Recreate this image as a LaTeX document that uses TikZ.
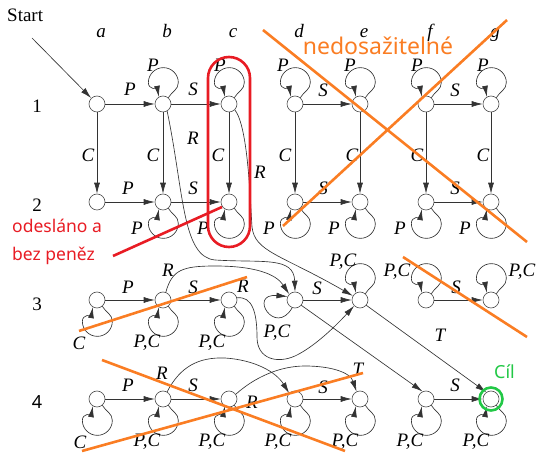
\documentclass[tikz,border=0pt]{standalone}
\usepackage{fontspec}
\setmainfont{Liberation Serif}
\newfontfamily\annfont{Noto Sans}
\usetikzlibrary{arrows.meta}
\definecolor{ora}{RGB}{250,125,35}
\definecolor{redc}{RGB}{232,28,36}
\definecolor{grn}{RGB}{34,200,70}
\newcommand\lpup[1]{\draw[ed] (#1.50) to[out=60,in=-90] ++(10,15) arc[start angle=0,end angle=180,radius=15] to[out=-90,in=100] (#1.120);}
\newcommand\lpdn[1]{\draw[ed] (#1.-50) to[out=-60,in=90] ++(10,-15) arc[start angle=0,end angle=-180,radius=15] to[out=90,in=-100] (#1.-120);}
\begin{document}
\begin{tikzpicture}[x=1pt,y=1pt,
  st/.style={circle,draw=black!70,fill=white,minimum size=16pt,inner sep=0pt,line width=0.6pt},
  ed/.style={draw=black!80,line width=0.65pt,-{Latex[length=11pt,width=6pt]}},
  lab/.style={font=\fontsize{19}{22}\selectfont\itshape,inner sep=0pt},
  rm/.style={font=\fontsize{19}{22}\selectfont,inner sep=0pt},
  orl/.style={draw=ora,line width=2.6pt},
  rdl/.style={draw=redc,line width=2.6pt},
]
\useasboundingbox (0,0) rectangle (540,452);
% states
\foreach \c/\x in {a/97,b/163,c/229,d/295,e/360,f/426,g/491}{
  \foreach \r/\y in {1/348,2/250,3/152,4/53}{
    \node[st] (\c\r) at (\x,\y) {};
  }
  \node[lab,anchor=base] (col\c) at (\x+4,414) {\c};
}
\node[rm] (row1) at (37,346) {1};
\node[rm] (row2) at (37,247) {2};
\node[rm] (row3) at (37,148) {3};
\node[rm,font=\annfont\fontsize{18}{22}\selectfont] (row4) at (37,50) {4};
\node[rm,anchor=base west] (start) at (7,430) {Start};
\coordinate (s0) at (32,414);
\draw[ed] (s0) -- (a1);
% straight transitions
\foreach \r in {1,2,3,4}{
  \draw[ed] (a\r) -- (b\r);
  \draw[ed] (b\r) -- (c\r);
  \draw[ed] (d\r) -- (e\r);
  \draw[ed] (f\r) -- (g\r);
}
\foreach \c in {a,b,c,d,e,f,g}{ \draw[ed] (\c1) -- (\c2); }
% loops
\foreach \c in {b,c,d,e,f,g}{ \lpup{\c1} \lpdn{\c2} }
\foreach \c in {a,b,c,d,e,f,g}{ \lpdn{\c4} }
\lpdn{a3} \lpdn{b3} \lpdn{c3}
\lpup{e3} \lpup{f3} \lpup{g3}
\draw[ed] (d3.-110) .. controls +(-120:34) and +(175:40) .. (d3.155);
% curved transitions
\draw[ed] (b1.-60) .. controls (184,260) and (182,195) .. (215,192) .. controls (262,189) and (294,196) .. (d3.north);
\draw[ed] (b3.70) .. controls (172,182) and (182,186) .. (215,186) .. controls (255,186) and (276,178) .. (d3.135);
\draw[ed] (c1.-45) .. controls (248,325) and (250,255) .. (252,225) .. controls (255,200) and (280,198) .. (e3.150);
\draw[ed] (c3.15) .. controls (252,156) and (257,140) .. (257,115) .. controls (257,93) and (277,88) .. (295,96) .. controls (312,104) and (332,122) .. (e3.-135);
\draw[ed] (b4.60) .. controls (180,85) and (198,95) .. (225,94) .. controls (255,92) and (276,80) .. (d4.135);
\draw[ed] (c4.35) .. controls (255,75) and (280,86) .. (305,86) .. controls (330,86) and (350,80) .. (e4.115);
\draw[ed] (d3.-40) -- (f4.115);
\draw[ed] (e3.-40) -- (g4.125);
% labels row 1
\node[lab] (l1) at (130,363) {P};
\node[lab] (l2) at (193,363) {S};
\node[lab] (l3) at (323,362) {S};
\node[lab] (l4) at (455,362) {S};
\foreach \c/\x in {b/153,c/220,d/283,e/350,f/417,g/483}{ \node[lab] (lp\c1) at (\x,387) {P}; }
\foreach \c/\x in {a/88,b/153,c/218,d/285,e/352,f/417,g/483}{ \node[lab] (lc\c) at (\x,297) {C}; }
\node[lab] (lr1) at (193,314) {R};
\node[lab] (lr2) at (260,280) {R};
% labels row 2
\node[lab] (l5) at (128,264) {P};
\node[lab] (l6) at (193,264) {S};
\node[lab] (l7) at (323,264) {S};
\node[lab] (l8) at (455,264) {S};
\foreach \c/\x in {b/137,c/203,d/269,e/334,f/400,g/465}{ \node[lab] (lp\c2) at (\x,224) {P}; }
% labels row 3
\node[lab] (l9) at (128,165) {P};
\node[lab] (l10) at (193,165) {S};
\node[lab] (lr3) at (168,182) {R};
\node[lab] (lr4) at (243,166) {R};
\node[lab] (l11) at (317,164) {S};
\node[lab] (l12) at (456,165) {S};
\node[lab] (lca3) at (79,109) {C};
\node[lab] (lpb3) at (147,109) {P,C};
\node[lab] (lpc3) at (212,109) {P,C};
\node[lab] (lpd3) at (277,119) {P,C};
\node[lab] (lpe3) at (343,190) {P,C};
\node[lab] (lpf3) at (397,180) {P,C};
\node[lab] (lpg3) at (522,180) {P,C};
\node[lab] (lt1) at (440,117) {T};
% labels row 4
\node[lab] (l13) at (128,67) {P};
\node[lab] (lr5) at (162,79) {R};
\node[lab] (l14) at (193,67) {S};
\node[lab] (lr6) at (252,50) {R};
\node[lab] (l15) at (323,65) {S};
\node[lab] (lt2) at (358,83) {T};
\node[lab] (l16) at (455,67) {S};
\node[lab] (lca4) at (80,10) {C};
\foreach \c/\x in {b/147,c/212,d/278,e/345,f/410,g/476}{ \node[lab] (lp\c4) at (\x,10) {P,C}; }
% annotations
\draw[orl] (263,422) -- (527,210);
\draw[orl] (507,432) -- (283,226);
\draw[orl] (403,195) -- (527,115);
\draw[orl] (79,121) -- (247,175);
\draw[orl] (102,92) -- (345,1);
\draw[orl] (82,1) -- (363,79);
\node[font=\annfont\fontsize{23}{26}\selectfont,text=ora,anchor=base,inner sep=0pt] (ned) at (378,397) {nedosažitelné};
\draw[rdl,rounded corners=21pt] (208,205) rectangle (250,395);
\coordinate (rl) at (113,196);
\draw[rdl] (rl) -- (222,245);
\node[font=\annfont\fontsize{17.5}{20}\selectfont,text=redc,anchor=base west,inner sep=0pt] (od1) at (12,219) {odesláno a};
\node[font=\annfont\fontsize{17.5}{20}\selectfont,text=redc,anchor=base west,inner sep=0pt] (od2) at (12,191) {bez peněz};
\draw[grn,line width=2.6pt] (g4) circle (11.5pt);
\node[font=\annfont\fontsize{18}{20}\selectfont,text=grn,anchor=base west,inner sep=0pt] (cil) at (494,73) {Cíl};
\end{tikzpicture}
\end{document}
